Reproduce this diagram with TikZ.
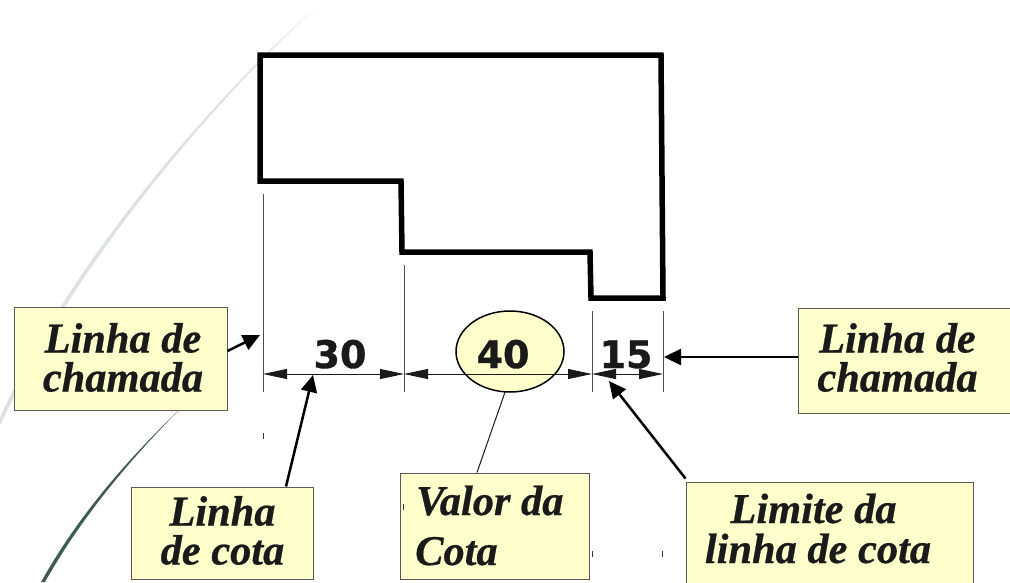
\documentclass[tikz,border=0pt]{standalone}
\usepackage{fontspec}
\setmainfont{Liberation Serif}[BoldItalicFeatures={FakeBold=0.6}]
\newfontfamily\dimfont{DejaVu Sans Bold}[FakeBold=0.9]
\usetikzlibrary{arrows.meta}
\definecolor{boxfill}{HTML}{FFFFCC}
\definecolor{ink}{HTML}{1A1A1A}
\definecolor{swooshlight}{HTML}{DCE2DF}
\definecolor{swooshdark}{HTML}{3F5C50}
\tikzset{
  x=1pt,y=-1pt,
  callbox/.style={draw=black!65,line width=1pt,fill=boxfill,inner sep=0pt,minimum width=#1},
  calltext/.style={font=\fontsize{42.4}{39}\selectfont\bfseries\itshape,text=ink,inner sep=0pt},
  dimtext/.style={font=\fontsize{38}{38}\dimfont,text=ink,inner sep=0pt,anchor=base},
  pointer/.style={line width=2.5pt,-{Triangle[length=17pt,width=16pt]},black},
  dimline/.style={line width=0.9pt,draw=ink,{Triangle[length=24pt,width=10pt]}-{Triangle[length=24pt,width=10pt]},fill=ink},
  extline/.style={line width=1pt,draw=black!70},
  tick/.style={line width=1pt,draw=black!80},
  outline/.style={line width=5.5pt,draw=black,line join=miter}
}
\begin{document}
\begin{tikzpicture}
\clip (0,0) rectangle (1010,582);
% background curves
\fill[swooshlight] (316,7) .. controls (210,105) and (70,270) .. (1,424) -- (-3,424) .. controls (66,268) and (208,103) .. cycle;
\fill[swooshdark] (178,411) .. controls (125,465) and (80,520) .. (45,582) -- (41,582) .. controls (77,518) and (123,464) .. cycle;
% part outline
\draw[outline] (260,55) -- (661,55) -- (663,298) -- (591,298) -- (590,252) -- (402,252) -- (401,181) -- (260,181) -- cycle;
% extension line coordinates
\coordinate (e1t) at (263,194); \coordinate (e1b) at (263,392);
\coordinate (e2t) at (404,265); \coordinate (e2b) at (404,392);
\coordinate (e3t) at (592,311); \coordinate (e3b) at (592,392);
\coordinate (e4t) at (663,311); \coordinate (e4b) at (663,392);
\coordinate (d1) at (263,374); \coordinate (d2) at (404,374);
\coordinate (d3) at (592,374); \coordinate (d4) at (663,374);
% value ellipse
\draw[line width=1.5pt,draw=black,fill=boxfill] (510,351.5) ellipse [x radius=54,y radius=40.5];
\node[minimum width=108pt,minimum height=81pt,inner sep=0pt] (val) at (510,351.5) {};
% extension lines and dimension lines
\draw[extline] (e1t) -- (e1b);
\draw[extline] (e2t) -- (e2b);
\draw[extline] (e3t) -- (e3b);
\draw[extline] (e4t) -- (e4b);
\draw[dimline] (d1) -- (d2);
\draw[dimline] (d2) -- (d3);
\draw[dimline] (d3) -- (d4);
% dimension values
\node[dimtext] (n30) at (340,368) {30};
\node[dimtext] (n40) at (503,368) {40};
\node[dimtext] (n15) at (626,368) {15};
% callout boxes
\node[callbox=213pt,minimum height=103pt] (boxA) at (120.5,358.5) {};
\node[callbox=182pt,minimum height=92pt] (boxB) at (222,533) {};
\node[callbox=189pt,minimum height=106pt] (boxC) at (494.5,526) {};
\node[callbox=287pt,minimum height=110pt] (boxD) at (829.5,537) {};
\node[callbox=222pt,minimum height=105pt] (boxE) at (909,360.5) {};
% stray ticks
\coordinate (t1a) at (263,433); \coordinate (t1b) at (263,439);
\coordinate (t2a) at (403,504); \coordinate (t2b) at (403,510);
\coordinate (t3a) at (592,551); \coordinate (t3b) at (592,557);
\coordinate (t4a) at (662,551); \coordinate (t4b) at (662,557);
\draw[tick] (t1a) -- (t1b);
\draw[tick] (t2a) -- (t2b);
\draw[tick] (t3a) -- (t3b);
\draw[tick] (t4a) -- (t4b);
% callout texts
\node[calltext,align=center] (txtA) at (123,357.5) {Linha de\\chamada};
\node[calltext,align=center] (txtB) at (222.5,530.5) {Linha\\de cota};
\node[calltext,anchor=base west] (txtC1) at (416,515) {Valor da};
\node[calltext,anchor=base west] (txtC2) at (415,565) {Cota};
\node[calltext,anchor=base] (txtD1) at (813.5,523) {Limite da};
\node[calltext,anchor=base] (txtD2) at (818,563) {linha de cota};
\node[calltext,align=center] (txtE) at (897.5,357.5) {Linha de\\chamada};
% pointers
\coordinate (tipA) at (260,335);
\coordinate (tipB) at (313,375);
\coordinate (tipD) at (609,381);
\coordinate (tipE) at (664,357);
\draw[pointer] ([yshift=7.5pt]boxA.east) -- (tipA);
\draw[pointer] ([xshift=64pt]boxB.north) -- (tipB);
\draw[line width=1pt,draw=ink] ([xshift=-17.5pt]boxC.north) -- ([xshift=-5pt]val.south);
\draw[pointer] ([yshift=3pt]boxD.north west) -- (tipD);
\draw[pointer] ([yshift=3.5pt]boxE.west) -- (tipE);
\end{tikzpicture}
\end{document}
